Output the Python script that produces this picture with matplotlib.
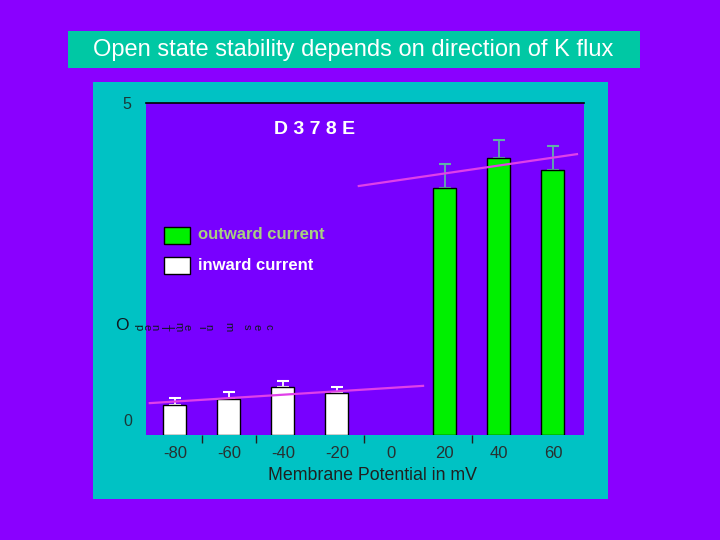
import matplotlib
matplotlib.use("Agg")
import matplotlib.pyplot as plt
from matplotlib.patches import Rectangle
import numpy as np

# data
inward_mv = [-80, -60, -40, -20]
inward_open = [0.45, 0.54, 0.72, 0.63]
inward_err = [0.11, 0.11, 0.09, 0.09]

outward_mv = [20, 40, 60]
outward_open = [3.72, 4.17, 3.99]
outward_err = [0.36, 0.27, 0.36]

tick_mv = [-80, -60, -40, -20, 0, 20, 40, 60]
tick_labels = ["-80", "-60", "-40", "-20", "0", "20", "40", "60"]
divider_mv = [-70, -50, -10, 30]

inward_fit_x = [-89.3, 11.9]
inward_fit_y = [0.48, 0.74]
outward_fit_x = [-11.9, 68.9]
outward_fit_y = [3.75, 4.23]

title = "Open state stability depends on direction of K flux"
ylabel_text = "Open Time in msec"

BG = "#8A00FF"
PANEL = "#00C2C4"
TITLE_BOX = "#00C8A4"
PLOT_BG = "#7800FF"
GREEN = "#00F000"
PINK = "#E040E8"

W, H = 720, 540
fig = plt.figure(figsize=(7.2, 5.4), dpi=100)
fig.patch.set_facecolor(BG)


def px_rect(x0, y0, x1, y1, color, edge="none", z=-1):
    r = Rectangle((x0 / W, 1 - y1 / H), (x1 - x0) / W, (y1 - y0) / H,
                  transform=fig.transFigure, facecolor=color,
                  edgecolor=edge, linewidth=1, zorder=z)
    fig.patches.append(r)
    return r


px_rect(68, 31, 640, 68, TITLE_BOX)
px_rect(93, 82, 608, 499, PANEL)

fig.text(353 / W, 1 - 50 / H, title, color="white", fontsize=17,
         family="Liberation Sans", ha="center", va="center")

ax_l, ax_r, ax_t, ax_b = 146, 584, 103, 435
ax = fig.add_axes([ax_l / W, 1 - ax_b / H, (ax_r - ax_l) / W, (ax_b - ax_t) / H])
ax.set_facecolor(PLOT_BG)
ax.set_xlim(-90.7, 71.5)
ax.set_ylim(0, 5)

for side in ["left", "right", "bottom"]:
    ax.spines[side].set_visible(False)
ax.spines["top"].set_color("black")
ax.spines["top"].set_linewidth(1.2)

ax.bar(inward_mv, inward_open, width=8.5, color="white", edgecolor="black",
       linewidth=1, zorder=3)
ax.bar(outward_mv, outward_open, width=8.5, color=GREEN, edgecolor="black",
       linewidth=1, zorder=3)

ax.errorbar(inward_mv, inward_open,
            yerr=[np.zeros(len(inward_err)), inward_err],
            fmt="none", ecolor="white", elinewidth=1.3, capsize=4.3,
            capthick=1.5, zorder=2)
ax.errorbar(outward_mv, outward_open,
            yerr=[np.zeros(len(outward_err)), outward_err],
            fmt="none", ecolor="#60B0A8", elinewidth=1.3, capsize=4.3,
            capthick=1.5, zorder=2)

ax.plot(inward_fit_x, inward_fit_y, color=PINK, linewidth=1.6, zorder=4)
ax.plot(outward_fit_x, outward_fit_y, color=PINK, linewidth=1.6, zorder=4)

ax.set_xticks(tick_mv)
ax.set_xticklabels(tick_labels, family="Liberation Sans", fontsize=12,
                   color="#283030")
ax.tick_params(axis="x", which="major", length=0, pad=8)
ax.set_xticks(divider_mv, minor=True)
ax.tick_params(axis="x", which="minor", length=6, width=1, color="#202020",
               direction="out")
ax.set_yticks([])

ax.set_xlabel("Membrane Potential in mV", family="Liberation Sans",
              fontsize=12.8, color="#202020")
ax.xaxis.set_label_coords((373 - ax_l) / (ax_r - ax_l), -(475 - ax_b) / (ax_b - ax_t))
ax.xaxis.label.set_va("center")

fig.text(127 / W, 1 - 104 / H, "5", fontsize=11.5, color="#1A3838",
         family="Liberation Sans", ha="center", va="center")
fig.text(128 / W, 1 - 422 / H, "0", fontsize=11.5, color="#1A3838",
         family="Liberation Sans", ha="center", va="center")

fig.text(315 / W, 1 - 129 / H, "D 3 7 8 E", fontsize=14, color="white",
         fontweight="bold", family="Liberation Sans", ha="center", va="center")

# legend
px_rect(164, 227, 190, 244, GREEN, edge="black", z=5)
px_rect(164, 257, 190, 274, "white", edge="black", z=5)
fig.text(198 / W, 1 - 235 / H, "outward current", fontsize=12, color="#A8D080",
         fontweight="bold", family="Liberation Sans", ha="left", va="center")
fig.text(198 / W, 1 - 266 / H, "inward current", fontsize=12, color="white",
         fontweight="bold", family="Liberation Sans", ha="left", va="center")

# garbled y label: first letter upright, the rest turned on their sides
char_x = [122, 138, 146, 154, 159, 164, 170, 178, 186, 195, 201, 208, 216, 228, 247, 257, 268]
for ch, x in zip(ylabel_text, char_x):
    if ch == " ":
        continue
    if ch == "O":
        fig.text(x / W, 1 - 325 / H, ch, fontsize=12.5, color="#101820",
                 family="Liberation Sans", ha="center", va="center")
    else:
        fig.text(x / W, 1 - 327 / H, ch, fontsize=8, color="#101820",
                 family="Liberation Sans", ha="center", va="center",
                 rotation=-90)

fig.savefig("out.png", dpi=100, facecolor=fig.get_facecolor())
